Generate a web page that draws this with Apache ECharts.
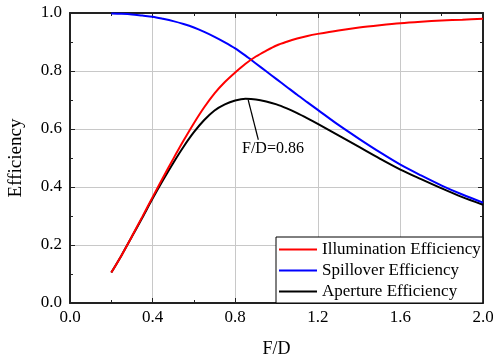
<!DOCTYPE html>
<html><head><meta charset="utf-8">
<script src="https://cdn.jsdelivr.net/npm/echarts@6/dist/echarts.min.js"></script>
<style>html,body{margin:0;padding:0;background:#fff}#c{width:493px;height:360px}</style>
</head><body><div id="c"></div>
<script>
const fd = [0.2,0.25,0.3,0.35,0.4,0.45,0.5,0.55,0.6,0.65,0.7,0.75,0.8,0.85,0.9,0.95,1.0,1.05,1.1,1.15,1.2,1.3,1.4,1.5,1.6,1.7,1.8,1.9,2.0];
const illumination = [0.105,0.165,0.23,0.297,0.365,0.432,0.497,0.560,0.620,0.675,0.723,0.762,0.795,0.825,0.850,0.870,0.888,0.901,0.912,0.921,0.928,0.940,0.950,0.958,0.965,0.970,0.974,0.977,0.980];
const spillover = [0.998,0.997,0.995,0.991,0.987,0.980,0.972,0.962,0.950,0.935,0.918,0.899,0.878,0.853,0.826,0.799,0.772,0.745,0.718,0.692,0.666,0.614,0.566,0.520,0.477,0.440,0.405,0.374,0.346];
const aperture = [0.105,0.165,0.229,0.294,0.360,0.423,0.483,0.539,0.589,0.631,0.664,0.685,0.698,0.704,0.702,0.695,0.685,0.671,0.655,0.637,0.618,0.578,0.538,0.498,0.460,0.427,0.395,0.365,0.339];
const seriesNames = ['Illumination Efficiency','Spillover Efficiency','Aperture Efficiency'];
const seriesColors = ['#ff0000','#0000ff','#000000'];
const annotText = 'F/D=0.86';
const arrowFrom = [0.912,0.563];
const arrowTo = [0.863,0.700];
const annotPos = [0.983,0.532];

const FONT = "'Liberation Serif','Times New Roman',serif";
const AX = '#222';
const pair = a => fd.map((x,i)=>[x,a[i]]);
const fmt = v => v.toFixed(1);

function axisCommon(showLabel){
  return {
    type:'value',
    axisLine:{show:true,onZero:false,lineStyle:{color:AX,width:2}},
    axisTick:{show:true,inside:true,length:5,lineStyle:{color:AX,width:1}},
    minorTick:{show:true,splitNumber:2,length:3,lineStyle:{color:AX,width:1}},
    axisLabel:{show:showLabel,formatter:fmt,color:'#000',fontFamily:FONT,fontSize:17},
  };
}

const chart = echarts.init(document.getElementById('c'));
const data = [illumination, spillover, aperture];
const series = data.map((d,i)=>({
  name:seriesNames[i], type:'line', xAxisIndex:0, yAxisIndex:0,
  data:pair(d), smooth:0.3, symbol:'none', showSymbol:false,
  lineStyle:{color:seriesColors[i],width:2}, itemStyle:{color:seriesColors[i]},
  z: 3-i
}));
series[2].markLine = {
  silent:true, symbol:['none','arrow'], symbolSize:[0,8],
  lineStyle:{color:'#000',width:1.2,type:'solid'}, label:{show:false},
  data:[[{coord:arrowFrom},{coord:arrowTo}]]
};
series[2].markPoint = {
  silent:true, symbol:'circle', symbolSize:1, itemStyle:{color:'rgba(0,0,0,0)'},
  label:{show:true,position:'inside',formatter:annotText,color:'#000',fontFamily:FONT,fontSize:16},
  data:[{coord:annotPos}]
};

chart.setOption({
  animation:false,
  backgroundColor:'#fff',
  textStyle:{fontFamily:FONT,color:'#000'},
  grid:{left:70,right:10,top:13,bottom:57,containLabel:false,outerBoundsMode:'none'},
  xAxis:[
    Object.assign(axisCommon(true),{position:'bottom',min:0,max:2,interval:0.4,
      name:'F/D',nameLocation:'middle',nameGap:37,
      nameTextStyle:{color:'#000',fontFamily:FONT,fontSize:18},
      axisLabel:{show:true,formatter:fmt,color:'#000',fontFamily:FONT,fontSize:17,margin:6},
      splitLine:{show:true,lineStyle:{color:'#c8c8c8',width:1}}}),
    Object.assign(axisCommon(false),{position:'top',min:0,max:2,interval:0.4,splitLine:{show:false}})
  ],
  yAxis:[
    Object.assign(axisCommon(true),{position:'left',min:0,max:1,interval:0.2,
      name:'Efficiency',nameLocation:'middle',nameGap:44,
      nameTextStyle:{color:'#000',fontFamily:FONT,fontSize:19},
      axisLabel:{show:true,formatter:fmt,color:'#000',fontFamily:FONT,fontSize:17,margin:8},
      splitLine:{show:true,lineStyle:{color:'#c8c8c8',width:1}}}),
    Object.assign(axisCommon(false),{position:'right',min:0,max:1,interval:0.2,splitLine:{show:false}})
  ],
  legend:{
    left:276, top:237, orient:'vertical', itemWidth:38, itemHeight:14, itemGap:4,
    padding:[4,2,3,2], backgroundColor:'#fff', borderColor:'#000', borderWidth:1, borderRadius:0,
    itemStyle:{opacity:0}, lineStyle:{width:2},
    textStyle:{color:'#000',fontFamily:FONT,fontSize:17}, data:seriesNames
  },
  series: series
});
</script></body></html>
